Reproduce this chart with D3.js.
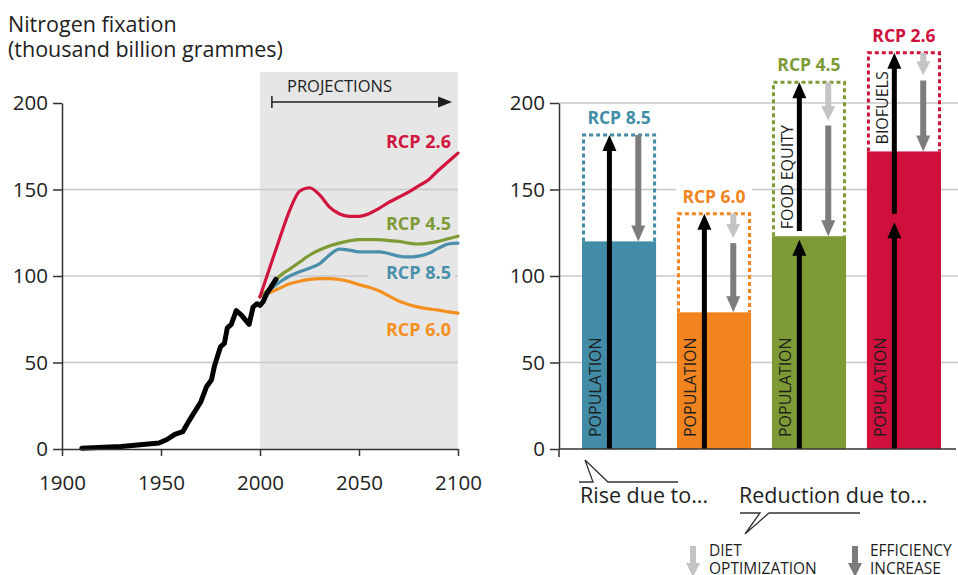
<!DOCTYPE html>
<html>
<head>
<meta charset="utf-8">
<script src="https://cdn.jsdelivr.net/npm/d3@7"></script>
<style>
  body { margin: 0; background: #fff; }
  svg { display: block; font-family: "Open Sans", sans-serif; }
</style>
</head>
<body>
<svg id="chart" width="958" height="575"></svg>
<script>
// ---------------------------------------------------------------------------
// DATA
// ---------------------------------------------------------------------------

// historical nitrogen fixation, thousand billion grammes
const histYears  = [1910, 1930, 1949, 1953, 1957, 1961, 1964, 1970, 1973, 1975.5, 1977, 1980, 1982, 1983.5, 1985.5, 1988, 1990.5, 1994.5, 1996.5, 1998.5, 2000, 2001.5, 2003.5, 2008];
const histValues = [0.5, 1.5, 3.5, 5.5, 8.5, 10, 16, 27, 36, 40, 48, 59, 61, 70, 72, 80, 77.5, 72, 82, 84, 83, 85, 90, 98];

// projections, one value per projection year
const projYears = [2000, 2005, 2010, 2015, 2020, 2025, 2030, 2035, 2040, 2045, 2050, 2055, 2060, 2065, 2070, 2075, 2080, 2085, 2090, 2095, 2100];
const rcp26 = [88, 105, 122, 138, 149, 151, 147, 140, 136, 134.5, 134.5, 136, 139, 142.5, 145.5, 148.5, 152, 155.5, 161, 166, 171];
const rcp45 = [88, 93, 100, 104, 108, 112, 115, 117.3, 119, 120.3, 121, 121, 121, 120.5, 120, 119, 118.5, 119, 120, 121.5, 123];
const rcp85 = [88, 92, 96.5, 100, 102.5, 104.5, 107, 112, 115.5, 115, 114, 114, 114, 113, 111.5, 111, 111.5, 113, 116, 118.5, 119];
const rcp60 = [88, 90.5, 93, 95.5, 97, 98, 98.5, 98.5, 98, 96.8, 95, 93.5, 91.5, 88.5, 85.5, 83.5, 82, 81, 80.3, 79.3, 78.5];

// 2100 decomposition (right panel)
const scenarios      = ['RCP 8.5', 'RCP 6.0', 'RCP 4.5', 'RCP 2.6'];
const netValues      = [120, 79, 123, 172];      // resulting bar
const grossValues    = [181.5, 136, 212, 229];   // top of dotted box
const populationTops = [181.5, 136, 121, 131];   // tip of population arrow
const extraDrivers   = ['', '', 'FOOD EQUITY', 'BIOFUELS'];
const dietEnds       = [null, 122, 190, 216];    // tip of diet optimization arrow

const yTicks = [0, 50, 100, 150, 200];
const xTicks = [1900, 1950, 2000, 2050, 2100];

// ---------------------------------------------------------------------------
// STYLE
// ---------------------------------------------------------------------------
const colors = {
    'RCP 2.6': '#d0103c',
    'RCP 4.5': '#7e9a35',
    'RCP 8.5': '#428ca8',
    'RCP 6.0': '#f2841f'
};
const lineColors = {
    'RCP 2.6': '#d2153e',
    'RCP 4.5': '#7f9b36',
    'RCP 8.5': '#4a90ad',
    'RCP 6.0': '#f5901f'
};
const textColor = '#1e1e1e';
const gridColor = '#c8c8c8';
const axisColor = '#333';
const lightGrey = '#c4c4c4';
const darkGrey = '#7c7c7c';

const svg = d3.select('#chart');

// ---------------------------------------------------------------------------
// LEFT PANEL
// ---------------------------------------------------------------------------
const xL = d3.scaleLinear().domain([1900, 2100]).range([62, 458]);
const yL = d3.scaleLinear().domain([0, 200]).range([449, 103]);

// title
svg.append('text').attr('x', 8).attr('y', 32)
    .attr('font-size', 21.5).attr('fill', textColor)
    .text('Nitrogen fixation');
svg.append('text').attr('x', 8).attr('y', 57)
    .attr('font-size', 21.5).attr('fill', textColor)
    .text('(thousand billion grammes)');

// projection background
svg.append('rect')
    .attr('x', xL(2000)).attr('y', 72)
    .attr('width', xL(2100) - xL(2000))
    .attr('height', yL(0) - 72)
    .attr('fill', '#e6e6e6');

// grid
svg.append('g')
    .selectAll('line')
    .data([50, 100, 150])
    .join('line')
    .attr('x1', xL(1900)).attr('x2', xL(2100))
    .attr('y1', d => yL(d)).attr('y2', d => yL(d))
    .attr('stroke', gridColor).attr('stroke-width', 1.5);

// "PROJECTIONS" marker
const projG = svg.append('g');
projG.append('text')
    .attr('x', 287).attr('y', 92)
    .attr('font-size', 16.5).attr('fill', textColor)
    .text('PROJECTIONS');
projG.append('line')
    .attr('x1', xL(2006)).attr('x2', xL(2097) - 12)
    .attr('y1', 102).attr('y2', 102)
    .attr('stroke', textColor).attr('stroke-width', 1.5);
projG.append('line')
    .attr('x1', xL(2006)).attr('x2', xL(2006))
    .attr('y1', 96).attr('y2', 108)
    .attr('stroke', textColor).attr('stroke-width', 1.5);
projG.append('path')
    .attr('d', `M${xL(2097) - 14},96.5L${xL(2097)},102L${xL(2097) - 14},107.5Z`)
    .attr('fill', textColor);

// projection lines
const projLine = d3.line()
    .x(d => xL(d[0]))
    .y(d => yL(d[1]))
    .curve(d3.curveMonotoneX);

const projSeries = [
    { name: 'RCP 6.0', values: rcp60 },
    { name: 'RCP 8.5', values: rcp85 },
    { name: 'RCP 4.5', values: rcp45 },
    { name: 'RCP 2.6', values: rcp26 }
];

svg.append('g')
    .selectAll('path')
    .data(projSeries)
    .join('path')
    .attr('d', s => projLine(projYears.map((y, i) => [y, s.values[i]])))
    .attr('fill', 'none')
    .attr('stroke', s => lineColors[s.name])
    .attr('stroke-width', 3.2)
    .attr('stroke-linecap', 'round');

// historical line
const histLine = d3.line()
    .x(d => xL(d[0]))
    .y(d => yL(d[1]));

svg.append('path')
    .attr('d', histLine(histYears.map((y, i) => [y, histValues[i]])))
    .attr('fill', 'none')
    .attr('stroke', '#000')
    .attr('stroke-width', 5)
    .attr('stroke-linejoin', 'round')
    .attr('stroke-linecap', 'round');

// series labels (right aligned, baseline given in data units)
const leftLabels = [
    { name: 'RCP 2.6', at: 174 },
    { name: 'RCP 4.5', at: 126.5 },
    { name: 'RCP 8.5', at: 98.5 },
    { name: 'RCP 6.0', at: 65.5 }
];
const leftLabelG = svg.append('g');
leftLabels.forEach(l => {
    const t = leftLabelG.append('text')
        .attr('x', 451).attr('y', yL(l.at))
        .attr('text-anchor', 'end')
        .attr('font-size', 18).attr('font-weight', 700)
        .attr('fill', lineColors[l.name])
        .text(l.name);
    if (l.name === 'RCP 8.5') {
        const bb = t.node().getBBox();
        leftLabelG.insert('rect', 'text')
            .attr('x', bb.x - 18).attr('y', bb.y)
            .attr('width', bb.width + 22).attr('height', bb.height)
            .attr('fill', '#e6e6e6');
    }
});

// axes
const yAxisL = d3.axisLeft(yL).tickValues(yTicks).tickSize(9).tickSizeOuter(0).tickPadding(5);
svg.append('g')
    .attr('transform', `translate(${xL(1900)},0)`)
    .call(yAxisL)
    .call(g => g.select('.domain').attr('stroke', axisColor).attr('stroke-width', 1.5))
    .call(g => g.selectAll('.tick line').attr('stroke', axisColor).attr('stroke-width', 1.5))
    .call(g => g.selectAll('.tick text')
        .attr('font-family', '"Open Sans", sans-serif')
        .attr('font-size', 20.5).attr('fill', '#222'));

const xAxisL = d3.axisBottom(xL).tickValues(xTicks).tickFormat(d3.format('d'))
    .tickSize(7).tickSizeOuter(0).tickPadding(19);
svg.append('g')
    .attr('transform', `translate(0,${yL(0)})`)
    .call(xAxisL)
    .call(g => g.select('.domain').attr('stroke', axisColor).attr('stroke-width', 1.5))
    .call(g => g.selectAll('.tick line').attr('stroke', axisColor).attr('stroke-width', 1.5))
    .call(g => g.selectAll('.tick text')
        .attr('font-family', '"Open Sans", sans-serif')
        .attr('font-size', 20.5).attr('fill', '#222'));

// ---------------------------------------------------------------------------
// RIGHT PANEL
// ---------------------------------------------------------------------------
const axisXR = 559;
const xR = d3.scaleBand().domain(scenarios).range([582, 941]).paddingInner(0.22).paddingOuter(0);
const yR = d3.scaleLinear().domain([0, 200]).range([449, 103]);
const bw = xR.bandwidth();

// grid
svg.append('g')
    .selectAll('line')
    .data([50, 100, 150, 200])
    .join('line')
    .attr('x1', axisXR).attr('x2', 958)
    .attr('y1', d => yR(d)).attr('y2', d => yR(d))
    .attr('stroke', gridColor).attr('stroke-width', 1.5);

// bars
svg.append('g')
    .selectAll('rect')
    .data(scenarios)
    .join('rect')
    .attr('x', d => xR(d))
    .attr('y', (d, i) => yR(netValues[i]))
    .attr('width', bw)
    .attr('height', (d, i) => yR(0) - yR(netValues[i]))
    .attr('fill', d => colors[d]);

// dotted boxes (gross value before reductions)
svg.append('g')
    .selectAll('path')
    .data(scenarios)
    .join('path')
    .attr('d', (d, i) => {
        const x0 = xR(d) + 1.5, x1 = xR(d) + bw - 1.5;
        return `M${x0},${yR(netValues[i])}V${yR(grossValues[i])}H${x1}V${yR(netValues[i])}`;
    })
    .attr('fill', 'none')
    .attr('stroke', d => colors[d])
    .attr('stroke-width', 3)
    .attr('stroke-dasharray', '4,3');

function arrow(g, x, y0, y1, color, shaft, headW, headL) {
    const dir = y1 < y0 ? -1 : 1;
    const yb = y1 - dir * headL;
    g.append('line')
        .attr('x1', x).attr('x2', x)
        .attr('y1', y0).attr('y2', yb + dir)
        .attr('stroke', color).attr('stroke-width', shaft);
    g.append('path')
        .attr('d', `M${x - headW / 2},${yb}L${x + headW / 2},${yb}L${x},${y1}Z`)
        .attr('fill', color);
}

const arrowsG = svg.append('g');
const gap = 3; // data units between chained arrows
scenarios.forEach((s, i) => {
    const bx = xR(s);
    const xBlack = bx + bw * 0.37;
    const xGrey = bx + bw * 0.76;

    // rise: population (+ extra driver)
    arrow(arrowsG, xBlack, yR(0), yR(populationTops[i]), '#000', 5, 14, 16);
    if (extraDrivers[i]) {
        arrow(arrowsG, xBlack, yR(populationTops[i] + gap + 2), yR(grossValues[i]), '#000', 5, 14, 16);
    }

    // reduction: diet optimization then efficiency increase
    let effStart = grossValues[i];
    if (dietEnds[i] !== null) {
        arrow(arrowsG, xGrey, yR(grossValues[i]), yR(dietEnds[i]), lightGrey, 6, 14, 14);
        effStart = dietEnds[i] - gap;
    }
    arrow(arrowsG, xGrey, yR(effStart), yR(netValues[i]), darkGrey, 6, 14, 16);
});

// rotated labels inside bars
const barTextG = svg.append('g');
scenarios.forEach((s, i) => {
    const bx = xR(s);
    barTextG.append('text')
        .attr('transform', `translate(${bx + 19},${yR(0) - 12}) rotate(-90)`)
        .attr('font-size', 16).attr('fill', '#1e1e1e')
        .text('POPULATION');
    if (extraDrivers[i]) {
        barTextG.append('text')
            .attr('transform', `translate(${bx + 21},${yR(netValues[i]) - 7}) rotate(-90)`)
            .attr('font-size', 16).attr('fill', '#1e1e1e')
            .text(extraDrivers[i]);
    }
});

// scenario labels above boxes (white backing hides grid)
const topLabelG = svg.append('g');
scenarios.forEach((s, i) => {
    const t = topLabelG.append('text')
        .attr('x', xR(s) + bw / 2)
        .attr('y', yR(grossValues[i]) - 11)
        .attr('text-anchor', 'middle')
        .attr('font-size', 17.5).attr('font-weight', 700)
        .attr('fill', colors[s])
        .text(s);
    const bb = t.node().getBBox();
    topLabelG.insert('rect', 'text')
        .attr('x', bb.x - 6).attr('y', bb.y + 2)
        .attr('width', bb.width + 12).attr('height', bb.height - 4)
        .attr('fill', '#fff');
});

// right axis
const yAxisR = d3.axisLeft(yR).tickValues(yTicks).tickSize(9).tickSizeOuter(0).tickPadding(5);
svg.append('g')
    .attr('transform', `translate(${axisXR},0)`)
    .call(yAxisR)
    .call(g => g.select('.domain').attr('stroke', axisColor).attr('stroke-width', 1.5))
    .call(g => g.selectAll('.tick line').attr('stroke', axisColor).attr('stroke-width', 1.5))
    .call(g => g.selectAll('.tick text')
        .attr('font-family', '"Open Sans", sans-serif')
        .attr('font-size', 20.5).attr('fill', '#222'));

svg.append('line')
    .attr('x1', axisXR).attr('x2', axisXR)
    .attr('y1', yR(0)).attr('y2', yR(0) + 8)
    .attr('stroke', axisColor).attr('stroke-width', 1.5);
svg.append('line')
    .attr('x1', axisXR).attr('x2', 956)
    .attr('y1', yR(0)).attr('y2', yR(0))
    .attr('stroke', axisColor).attr('stroke-width', 1.5);

// ---------------------------------------------------------------------------
// ANNOTATIONS
// ---------------------------------------------------------------------------
const annG = svg.append('g')
    .attr('fill', 'none').attr('stroke', '#333').attr('stroke-width', 1.3);
annG.append('path').attr('d', 'M579,482H593L585,460L608,482H678');
annG.append('path').attr('d', 'M740,513H760L745,534L769,513H860');

svg.append('text').attr('x', 580).attr('y', 503)
    .attr('font-size', 21.5).attr('fill', textColor)
    .text('Rise due to...');
svg.append('text').attr('x', 739).attr('y', 503)
    .attr('font-size', 21.5).attr('fill', textColor)
    .text('Reduction due to...');

// legend
const legG = svg.append('g');
arrow(legG, 693, 546, 577, lightGrey, 6, 14, 14);
arrow(legG, 855, 546, 577, darkGrey, 6, 14, 14);
legG.append('text').attr('x', 709).attr('y', 556)
    .attr('font-size', 15.5).attr('fill', textColor).text('DIET');
legG.append('text').attr('x', 709).attr('y', 574)
    .attr('font-size', 15.5).attr('fill', textColor).text('OPTIMIZATION');
legG.append('text').attr('x', 870).attr('y', 556)
    .attr('font-size', 15.5).attr('fill', textColor).text('EFFICIENCY');
legG.append('text').attr('x', 870).attr('y', 574)
    .attr('font-size', 15.5).attr('fill', textColor).text('INCREASE');
</script>
</body>
</html>
